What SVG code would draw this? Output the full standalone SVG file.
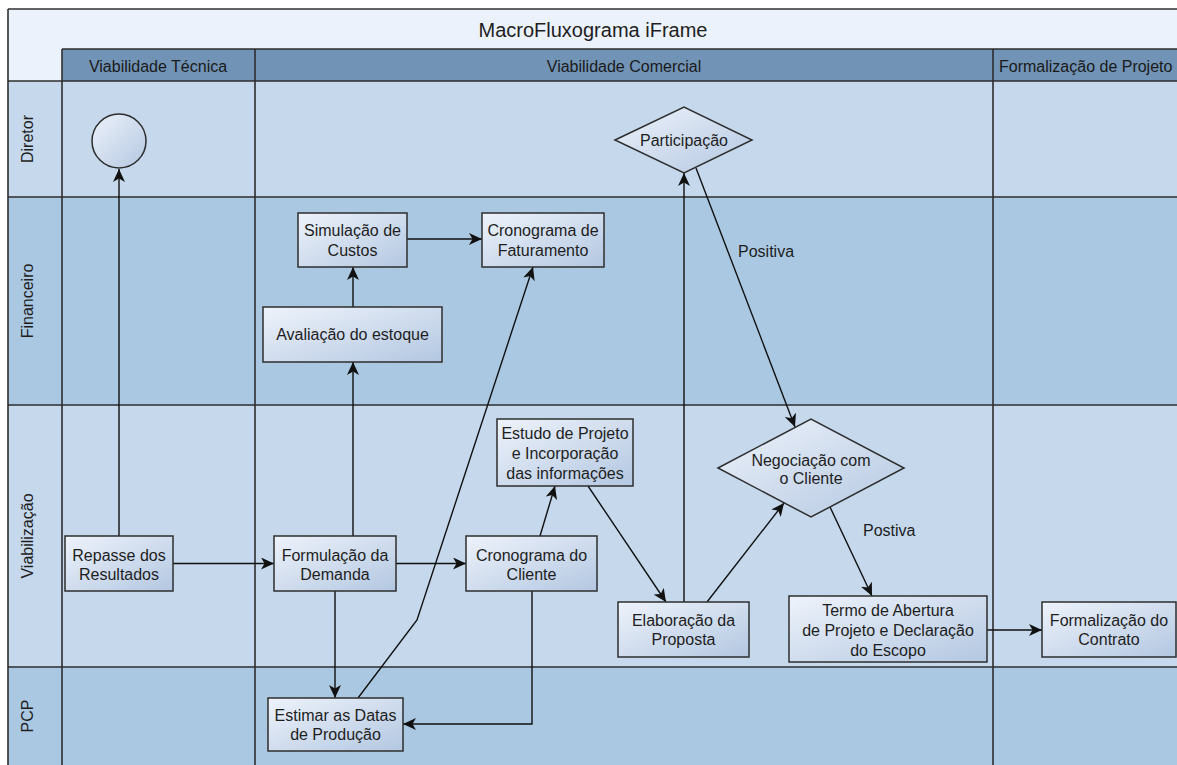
<svg xmlns="http://www.w3.org/2000/svg" width="1177" height="765" viewBox="0 0 1177 765">
<style>
text{font-family:"Liberation Sans",Arial,sans-serif;fill:#1e1e1e;}
.t{font-size:16px;text-anchor:middle;}
.title{font-size:20px;text-anchor:middle;}
.hdr{font-size:16px;text-anchor:middle;fill:#1a1a1a;}
.lab{font-size:16px;}
.node{fill:url(#g);stroke:#2e2e2e;stroke-width:1.5;}
.grid{stroke:#2e2e2e;stroke-width:1.6;fill:none;}
.conn path{fill:none;stroke:#111;stroke-width:1.4;marker-end:url(#arr);}
.conn path.plain{marker-end:none;}
</style>
<defs>
<linearGradient id="g" x1="0" y1="0" x2="1" y2="1">
<stop offset="0" stop-color="#eef3fb"/>
<stop offset="1" stop-color="#b3c7e1"/>
</linearGradient>
<marker id="arr" markerUnits="userSpaceOnUse" markerWidth="14" markerHeight="12" refX="13" refY="6" orient="auto">
<path d="M0,0 L13,6 L0,12 L3.5,6 z" fill="#111"/>
</marker>
</defs>
<g id="background">
<rect x="0" y="0" width="1177" height="765" fill="#ffffff"/>
<rect x="8" y="9" width="1169" height="72" fill="#ebf2fc"/>
<rect x="62" y="49" width="1115" height="32" fill="#7193b5"/>
<rect x="8" y="81" width="1169" height="116" fill="#c5d8ec"/>
<rect x="8" y="197" width="1169" height="208" fill="#aac8e2"/>
<rect x="8" y="405" width="1169" height="262" fill="#c5d8ec"/>
<rect x="8" y="667" width="1169" height="98" fill="#aac8e2"/>
</g>
<g id="grid" class="grid">
<path d="M8,9 H1177"/>
<path d="M8,9 V765"/>
<path d="M62,49 H1177"/>
<path d="M8,81 H1177"/>
<path d="M8,197 H1177"/>
<path d="M8,405 H1177"/>
<path d="M8,667 H1177"/>
<path d="M62,49 V765"/>
<path d="M255,49 V765"/>
<path d="M993,49 V765"/>
</g>
<g id="labels">
<text class="title" x="593" y="37">MacroFluxograma iFrame</text>
<text class="hdr" x="158" y="72">Viabilidade Técnica</text>
<text class="hdr" x="624" y="72">Viabilidade Comercial</text>
<text class="hdr" x="999" y="72" style="text-anchor:start">Formalização de Projeto</text>
<text class="t" transform="translate(33,139) rotate(-90)">Diretor</text>
<text class="t" transform="translate(33,301) rotate(-90)">Financeiro</text>
<text class="t" transform="translate(33,536) rotate(-90)">Viabilização</text>
<text class="t" transform="translate(33,716) rotate(-90)">PCP</text>
</g>
<g id="connectors" class="conn">
<path d="M119,536 V169"/>
<path d="M173,563.5 H274"/>
<path d="M353,536 V362"/>
<path d="M353,307 V267"/>
<path d="M407,239 H482"/>
<path d="M396,563.5 H466"/>
<path d="M335,591 V698"/>
<path d="M358,698 L417,620 L533,267"/>
<path d="M532,591 V724 H403"/>
<path d="M540,536 L555,486"/>
<path d="M588,486 L666,602"/>
<path d="M684,602 V173"/>
<path d="M707,602 L784,503"/>
<path d="M696,168 L795,427"/>
<path d="M830,507 L872,596"/>
<path d="M987,630 H1042"/>
<text class="lab" x="738" y="257">Positiva</text>
<text class="lab" x="863" y="536">Postiva</text>
</g>
<g id="inicio"><circle class="node" cx="119" cy="141" r="27"/></g>
<g id="participacao"><polygon class="node" points="615,140 684,107 752,140 684,173"/><text class="t" x="684" y="146">Participação</text></g>
<g id="simulacao"><rect class="node" x="298" y="213" width="109" height="54"/><text class="t" x="352.5" y="236">Simulação de</text><text class="t" x="352.5" y="256">Custos</text></g>
<g id="cronograma-faturamento"><rect class="node" x="482" y="213" width="122" height="54"/><text class="t" x="543" y="236">Cronograma de</text><text class="t" x="543" y="256">Faturamento</text></g>
<g id="avaliacao"><rect class="node" x="263" y="307" width="179" height="55"/><text class="t" x="352.5" y="340">Avaliação do estoque</text></g>
<g id="repasse"><rect class="node" x="65" y="536" width="108" height="55"/><text class="t" x="119" y="561">Repasse dos</text><text class="t" x="119" y="580">Resultados</text></g>
<g id="formulacao"><rect class="node" x="274" y="536" width="122" height="55"/><text class="t" x="335" y="561">Formulação da</text><text class="t" x="335" y="580">Demanda</text></g>
<g id="estimar"><rect class="node" x="268" y="698" width="135" height="53"/><text class="t" x="335.5" y="721">Estimar as Datas</text><text class="t" x="335.5" y="740">de Produção</text></g>
<g id="cronograma-cliente"><rect class="node" x="466" y="536" width="131" height="55"/><text class="t" x="531.5" y="561">Cronograma do</text><text class="t" x="531.5" y="580">Cliente</text></g>
<g id="estudo"><rect class="node" x="497" y="419" width="136" height="67"/><text class="t" x="565" y="439">Estudo de Projeto</text><text class="t" x="565" y="459">e Incorporação</text><text class="t" x="565" y="479">das informações</text></g>
<g id="elaboracao"><rect class="node" x="618" y="602" width="131" height="55"/><text class="t" x="683.5" y="626">Elaboração da</text><text class="t" x="683.5" y="645">Proposta</text></g>
<g id="negociacao"><polygon class="node" points="718,468 811,419 904,468 811,517"/><text class="t" x="811" y="466">Negociação com</text><text class="t" x="811" y="484">o Cliente</text></g>
<g id="termo"><rect class="node" x="789" y="596" width="198" height="66"/><text class="t" x="888" y="616">Termo de Abertura</text><text class="t" x="888" y="636">de Projeto e Declaração</text><text class="t" x="888" y="656">do Escopo</text></g>
<g id="formalizacao"><rect class="node" x="1042" y="602" width="134" height="55"/><text class="t" x="1109" y="626">Formalização do</text><text class="t" x="1109" y="645">Contrato</text></g>
</svg>
